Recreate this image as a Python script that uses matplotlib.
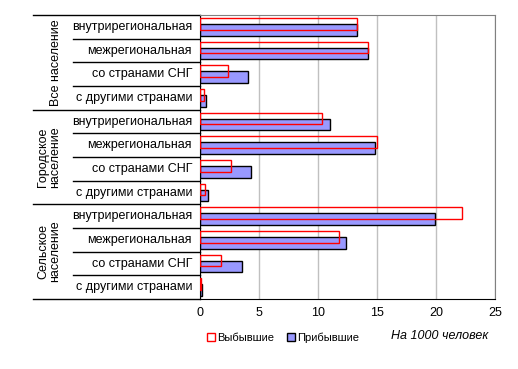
import numpy as np
import matplotlib
matplotlib.use('Agg')
import matplotlib.pyplot as plt
from matplotlib.patches import Patch
from matplotlib.transforms import blended_transform_factory

plt.rcParams['font.family'] = ['Liberation Sans', 'DejaVu Sans']

groups = ['Все население', 'Городское\nнаселение', 'Сельское\nнаселение']
flows = ['внутрирегиональная', 'межрегиональная', 'со странами СНГ', 'с другими странами']

# per 1000 people, top to bottom
left_vals = [13.3, 14.2, 2.4, 0.3,
             10.3, 15.0, 2.6, 0.4,
             22.2, 11.8, 1.75, 0.08]
arrived_vals = [13.3, 14.2, 4.1, 0.5,
                11.0, 14.85, 4.3, 0.65,
                19.95, 12.4, 3.6, 0.14]


def main():
    fig = plt.figure(figsize=(5.18, 3.69), dpi=100)
    W, H = 518, 369
    ax = fig.add_axes([200 / W, 1 - 299 / H, 295 / W, 284 / H])

    n = len(left_vals)
    y = np.arange(n)
    ax.barh(y + 0.13, arrived_vals, height=0.5, color='#9999ff',
            edgecolor='black', linewidth=1.0, zorder=2)
    ax.barh(y - 0.13, left_vals, height=0.5, facecolor='none',
            edgecolor='red', linewidth=1.0, zorder=3)

    ax.set_xlim(0, 25)
    ax.set_ylim(n - 0.5, -0.5)
    ax.set_xticks([0, 5, 10, 15, 20, 25])
    ax.set_yticks([])
    ax.tick_params(axis='x', length=0, labelsize=9, pad=6)
    ax.xaxis.grid(True, color='#c0c0c0', linewidth=1)
    ax.set_axisbelow(True)
    for s in ['top', 'right']:
        ax.spines[s].set_color('#808080')
    ax.spines['left'].set_color('black')
    ax.spines['bottom'].set_color('black')

    # left table of labels
    tr = blended_transform_factory(fig.transFigure, ax.transData)
    for k in range(n + 1):
        yy = k - 0.5
        x0 = 33 / W if k % 4 == 0 else 73 / W
        ax.plot([x0, 200 / W], [yy, yy], color='black', lw=1,
                transform=tr, clip_on=False)
    for i in range(n):
        ax.text(192 / W, i, flows[i % 4], transform=tr, ha='right',
                va='center', fontsize=9)
    gx = [56, 49, 49]
    for g, name in enumerate(groups):
        ax.text(gx[g] / W, g * 4 + 1.5, name, transform=tr, rotation=90,
                ha='center', va='center', fontsize=9, linespacing=1.0,
                multialignment='center')

    handles = [Patch(facecolor='white', edgecolor='red'),
               Patch(facecolor='#9999ff', edgecolor='black')]
    fig.legend(handles, ['Выбывшие', 'Прибывшие'], ncol=2, frameon=False,
               loc='center', bbox_to_anchor=(283 / W, 1 - 338 / H),
               fontsize=8, handlelength=0.7, handleheight=0.7,
               handletextpad=0.2, columnspacing=1.2)
    fig.text(440 / W, 1 - 336 / H, 'На 1000 человек', style='italic',
             ha='center', va='center', fontsize=9)

    fig.savefig('out.png', dpi=100)


if __name__ == '__main__':
    main()
